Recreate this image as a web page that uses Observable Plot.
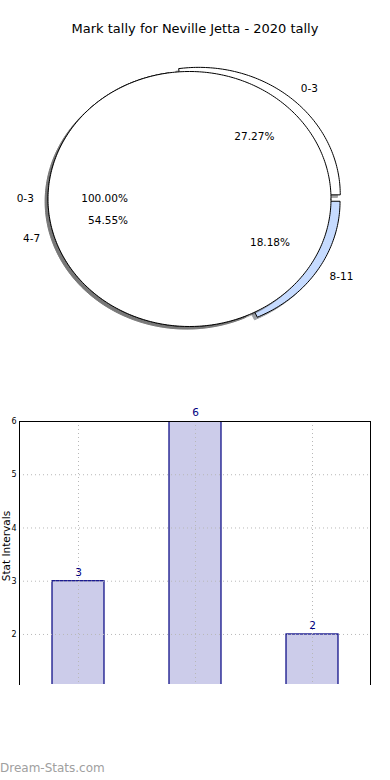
<!DOCTYPE html>
<html><head><meta charset="utf-8">
<script src="https://cdn.jsdelivr.net/npm/d3@7"></script>
<script src="https://cdn.jsdelivr.net/npm/@observablehq/plot@0.6"></script>
<style>
body{margin:0;background:#fff;font-family:"DejaVu Sans",sans-serif;}
#wrap{position:relative;width:390px;height:780px;overflow:hidden;background:#fff;}
#title{position:absolute;top:21px;left:0;width:390px;text-align:center;font-size:13px;color:#000;white-space:nowrap;}
#pie{position:absolute;top:0;left:0;}
#bar{position:absolute;top:400px;left:0;}
#wm{position:absolute;left:0;top:761px;font-size:12px;color:#a0a0a0;}
</style></head><body>
<div id="wrap"><div id="pie"></div><div id="title">Mark tally for Neville Jetta - 2020 tally</div><div id="bar"></div><div id="wm">Dream-Stats.com</div></div>
<script>
// ---- data ----
const pieLabels = ["0-3", "4-7", "8-11"];
const pieValues = [3, 6, 2];
const pieColors = ["#ffffff", "#ffffff", "#c6dbff"];
const pieExplode = [0.1, 0, 0.076];
const innerLabels = ["0-3"];
const innerValues = [1];
const innerColors = ["#ffffff"];
const barCategories = ["0-3", "4-7", "8-11"];
const barValues = [3, 6, 2];
const yTicks = [2, 3, 4, 5, 6];

// ---- pie geometry from data ----
const explodeYFactor = 0.43;
function buildWedges(labels, values, colors, explode) {
  const total = d3.sum(values);
  let start = 0;
  return values.map((v, i) => {
    const frac = v / total;
    const t1 = start * 2 * Math.PI, t2 = (start + frac) * 2 * Math.PI;
    start += frac;
    const mid = (t1 + t2) / 2;
    const e = explode ? explode[i] : 0;
    const dx = e * Math.cos(mid), dy = e * Math.sin(mid) * explodeYFactor;
    const full = frac >= 0.9999;
    const n = Math.max(4, Math.ceil((t2 - t1) / (Math.PI / 180)));
    const pts = [];
    if (!full) pts.push([dx, dy]);
    for (let k = 0; k <= n; k++) {
      const t = t1 + (t2 - t1) * k / n;
      pts.push([dx + Math.cos(t), dy + Math.sin(t)]);
    }
    pts.push(pts[0]);
    return {label: labels[i], pct: (frac * 100).toFixed(2) + "%", color: colors[i], pts,
      lx: dx + 1.1 * Math.cos(mid), ly: dy + 1.1 * Math.sin(mid),
      px: dx + 0.6 * Math.cos(mid), py: dy + 0.6 * Math.sin(mid)};
  });
}
const outer = buildWedges(pieLabels, pieValues, pieColors, pieExplode);
const inner = buildWedges(innerLabels, innerValues, innerColors, null);
const allW = [...outer, ...inner];

function shade(c) {
  const r = d3.rgb(c);
  return d3.rgb(r.r * 0.3, r.g * 0.3, r.b * 0.3).formatHex();
}
const pieMarks = [];
for (const w of allW) {
  const sc = shade(w.color);
  pieMarks.push(Plot.line(w.pts, {x: d => d[0] - 0.02, y: d => d[1] - 0.02, fill: sc, stroke: sc, strokeWidth: 1, opacity: 0.5, curve: "linear"}));
  pieMarks.push(Plot.line(w.pts, {x: d => d[0], y: d => d[1], fill: w.color, stroke: "#000", strokeWidth: 1, curve: "linear"}));
}
const labelRows = allW.map(w => ({t: w.label, x: w.lx, y: w.ly}));
pieMarks.push(Plot.text(labelRows.filter(d => d.x >= 0), {x: "x", y: "y", text: "t", textAnchor: "start", fontSize: 10.5, fill: "#000"}));
pieMarks.push(Plot.text(labelRows.filter(d => d.x < 0), {x: "x", y: "y", text: "t", textAnchor: "end", fontSize: 10.5, fill: "#000"}));
pieMarks.push(Plot.text(allW, {x: "px", y: "py", text: "pct", textAnchor: "middle", fontSize: 10.5, fill: "#000"}));

const pie = Plot.plot({
  width: 390, height: 360, margin: 0,
  style: {fontFamily: "DejaVu Sans", background: "transparent"},
  x: {domain: [-1, 1], range: [47.5, 330.5], axis: null},
  y: {domain: [-1, 1], range: [326, 71], axis: null},
  marks: pieMarks
});
document.getElementById("pie").append(pie);

// ---- bar chart ----
const barData = barCategories.map((c, i) => ({cat: c, v: barValues[i]}));
const bar = Plot.plot({
  width: 390, height: 300,
  marginTop: 21, marginBottom: 16, marginLeft: 19, marginRight: 20,
  style: {fontFamily: "DejaVu Sans", background: "transparent"},
  x: {domain: barCategories, paddingInner: 0.556, paddingOuter: 0.278, axis: null},
  y: {domain: [1.06, 6], axis: null},
  marks: [
    Plot.barY(barData, {x: "cat", y: "v", fill: "#ccccea", stroke: "#000080", strokeWidth: 1.2, clip: true}),
    Plot.ruleY(yTicks, {stroke: "#b8b8b8", strokeWidth: 1, strokeDasharray: "1,3"}),
    Plot.ruleX(barCategories, {x: d => d, stroke: "#b8b8b8", strokeWidth: 1, strokeDasharray: "1,3"}),
    Plot.frame({anchor: "top", stroke: "#000"}),
    Plot.frame({anchor: "left", stroke: "#000"}),
    Plot.frame({anchor: "right", stroke: "#000"}),
    Plot.axisY(yTicks, {anchor: "left", tickSize: 0, tickPadding: 3, fontSize: 8, label: null, tickFormat: d => String(d)}),
    Plot.text(barData, {x: "cat", y: "v", text: d => String(d.v), dy: -9, fill: "#000080", fontSize: 10.5}),
    Plot.text([{t: "Stat Intervals", v: 3}], {y: "v", text: "t", frameAnchor: "left", rotate: -90, dx: -13, fontSize: 10.5, fill: "#000"})
  ]
});
document.getElementById("bar").append(bar);
</script>
</body></html>
